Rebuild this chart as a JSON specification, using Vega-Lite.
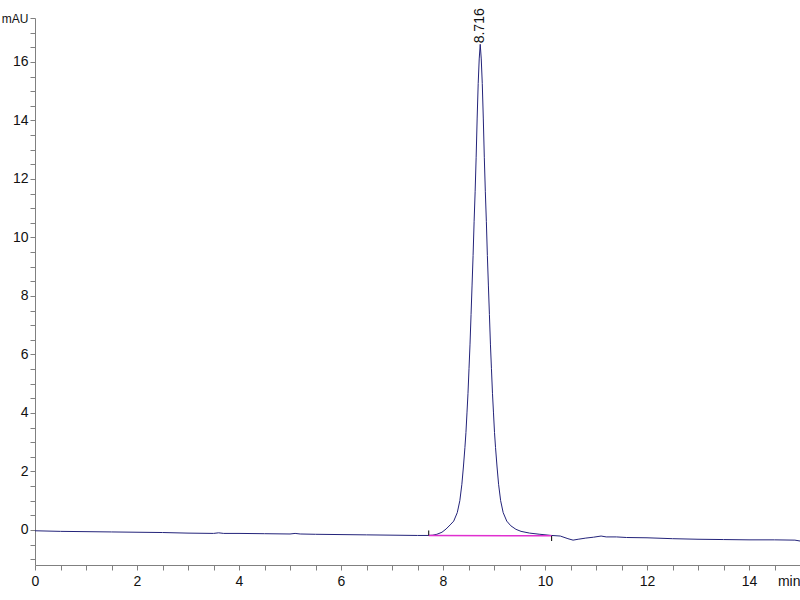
{
  "$schema": "https://vega.github.io/schema/vega-lite/v6.json",
  "width": 765,
  "height": 547,
  "autosize": {"type": "none"},
  "padding": {"left": 35, "top": 18, "right": 0, "bottom": 35},
  "background": "white",
  "config": {
    "view": {"stroke": null},
    "font": "Liberation Sans",
    "axis": {
      "grid": false,
      "domainColor": "#808080",
      "tickColor": "#808080",
      "labelColor": "#111111",
      "labelFont": "Liberation Sans",
      "labelFontSize": 14,
      "title": null,
      "labelOverlap": false,
      "labelBound": false,
      "tickSize": 5,
      "tickCount": 200
    }
  },
  "datasets": {
    "trace": [
      {"t": 0, "v": -0.03}, {"t": 0.5, "v": -0.05}, {"t": 1.0, "v": -0.06}, {"t": 1.5, "v": -0.07},
      {"t": 2.0, "v": -0.08}, {"t": 2.5, "v": -0.09}, {"t": 3.0, "v": -0.11}, {"t": 3.5, "v": -0.12},
      {"t": 3.6, "v": -0.10}, {"t": 3.7, "v": -0.12}, {"t": 4.0, "v": -0.12}, {"t": 4.5, "v": -0.13},
      {"t": 5.0, "v": -0.14}, {"t": 5.1, "v": -0.12}, {"t": 5.2, "v": -0.14}, {"t": 5.5, "v": -0.15},
      {"t": 6.0, "v": -0.16}, {"t": 6.5, "v": -0.17}, {"t": 7.0, "v": -0.18}, {"t": 7.5, "v": -0.19},
      {"t": 7.72, "v": -0.19}, {"t": 7.8, "v": -0.18}, {"t": 7.88, "v": -0.15}, {"t": 7.98, "v": -0.08},
      {"t": 8.06, "v": 0.03}, {"t": 8.14, "v": 0.17}, {"t": 8.21, "v": 0.30}, {"t": 8.28, "v": 0.59},
      {"t": 8.33, "v": 1.0}, {"t": 8.37, "v": 1.56}, {"t": 8.40, "v": 2.15}, {"t": 8.43, "v": 2.82},
      {"t": 8.45, "v": 3.33}, {"t": 8.47, "v": 4.0}, {"t": 8.49, "v": 4.67}, {"t": 8.51, "v": 5.51},
      {"t": 8.53, "v": 6.35}, {"t": 8.55, "v": 7.36}, {"t": 8.57, "v": 8.37}, {"t": 8.59, "v": 9.38},
      {"t": 8.61, "v": 10.55}, {"t": 8.63, "v": 11.56}, {"t": 8.65, "v": 12.74}, {"t": 8.67, "v": 14.08},
      {"t": 8.69, "v": 15.26}, {"t": 8.71, "v": 16.1}, {"t": 8.73, "v": 16.6}, {"t": 8.75, "v": 16.1},
      {"t": 8.77, "v": 15.26}, {"t": 8.79, "v": 14.08}, {"t": 8.81, "v": 12.74}, {"t": 8.83, "v": 11.56},
      {"t": 8.85, "v": 10.55}, {"t": 8.87, "v": 9.38}, {"t": 8.89, "v": 8.37}, {"t": 8.91, "v": 7.36},
      {"t": 8.93, "v": 6.35}, {"t": 8.95, "v": 5.51}, {"t": 8.97, "v": 4.67}, {"t": 8.99, "v": 4.0},
      {"t": 9.01, "v": 3.33}, {"t": 9.03, "v": 2.82}, {"t": 9.06, "v": 2.15}, {"t": 9.09, "v": 1.56},
      {"t": 9.13, "v": 1.0}, {"t": 9.18, "v": 0.59}, {"t": 9.25, "v": 0.30}, {"t": 9.33, "v": 0.14},
      {"t": 9.43, "v": 0.02}, {"t": 9.53, "v": -0.05}, {"t": 9.7, "v": -0.11}, {"t": 9.9, "v": -0.15},
      {"t": 10.13, "v": -0.19}, {"t": 10.3, "v": -0.21}, {"t": 10.45, "v": -0.30}, {"t": 10.55, "v": -0.35},
      {"t": 10.65, "v": -0.32}, {"t": 10.8, "v": -0.28}, {"t": 10.95, "v": -0.25}, {"t": 11.1, "v": -0.21},
      {"t": 11.2, "v": -0.24}, {"t": 11.4, "v": -0.24}, {"t": 11.6, "v": -0.26}, {"t": 12.0, "v": -0.27},
      {"t": 12.5, "v": -0.30}, {"t": 13.0, "v": -0.32}, {"t": 13.5, "v": -0.33}, {"t": 14.0, "v": -0.34},
      {"t": 14.5, "v": -0.34}, {"t": 14.9, "v": -0.35}, {"t": 15.0, "v": -0.38}
    ],
    "baseline": [
      {"t": 7.72, "v": -0.19}, {"t": 10.13, "v": -0.20}
    ],
    "marks": [
      {"t": 7.72, "v": -0.02, "v2": -0.19},
      {"t": 10.13, "v": -0.20, "v2": -0.38}
    ],
    "peaks": [
      {"t": 8.73, "v": 16.6, "label": "8.716"}
    ]
  },
  "layer": [
    {
      "data": {"name": "trace"},
      "mark": {"type": "line", "color": "#23237a", "strokeWidth": 1, "clip": true},
      "encoding": {
        "x": {
          "field": "t", "type": "quantitative",
          "scale": {"domain": [0, 15], "nice": false, "zero": false},
          "axis": {
            "values": [0,0.5,1,1.5,2,2.5,3,3.5,4,4.5,5,5.5,6,6.5,7,7.5,8,8.5,9,9.5,10,10.5,11,11.5,12,12.5,13,13.5,14,14.5,15],
            "labelExpr": "datum.value == 15 ? 'min' : (datum.value % 2 == 0 ? format(datum.value, 'd') : '')",
            "labelAlign": {"expr": "datum.value == 15 ? 'right' : 'center'"},
            "labelPadding": 4,
            "tickCount": 200
          }
        },
        "y": {
          "field": "v", "type": "quantitative",
          "scale": {"domain": [-1.2, 17.5], "nice": false, "zero": false},
          "axis": {
            "values": [-1,-0.5,0,0.5,1,1.5,2,2.5,3,3.5,4,4.5,5,5.5,6,6.5,7,7.5,8,8.5,9,9.5,10,10.5,11,11.5,12,12.5,13,13.5,14,14.5,15,15.5,16,16.5,17,17.5],
            "labelExpr": "datum.value == 17.5 ? 'mAU' : (datum.value % 2 == 0 ? format(datum.value, 'd') : '')",
            "labelFontSize": {"expr": "datum.value == 17.5 ? 12 : 14"},
            "labelPadding": 2,
            "tickCount": 200
          }
        }
      }
    },
    {
      "data": {"name": "baseline"},
      "mark": {"type": "line", "color": "#e030d0", "strokeWidth": 1.5},
      "encoding": {
        "x": {"field": "t", "type": "quantitative"},
        "y": {"field": "v", "type": "quantitative"}
      }
    },
    {
      "data": {"name": "marks"},
      "mark": {"type": "rule", "color": "#000000", "strokeWidth": 1},
      "encoding": {
        "x": {"field": "t", "type": "quantitative"},
        "y": {"field": "v", "type": "quantitative"},
        "y2": {"field": "v2"}
      }
    },
    {
      "data": {"name": "peaks"},
      "mark": {"type": "text", "angle": 270, "align": "left", "baseline": "middle", "dx": 1, "fontSize": 14, "font": "Liberation Sans", "color": "#111111"},
      "encoding": {
        "x": {"field": "t", "type": "quantitative"},
        "y": {"field": "v", "type": "quantitative"},
        "text": {"field": "label"}
      }
    }
  ]
}
